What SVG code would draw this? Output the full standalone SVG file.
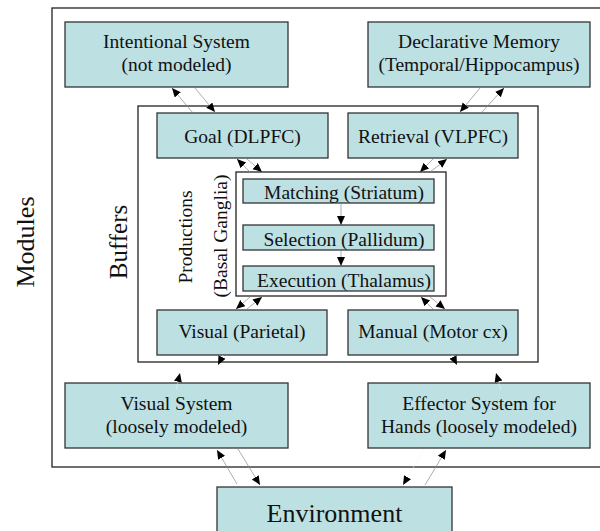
<svg xmlns="http://www.w3.org/2000/svg" width="600" height="531" viewBox="0 0 600 531">
<style>
.box{fill:#bde0e3;stroke:#333;stroke-width:1.3}
.frame{fill:none;stroke:#222;stroke-width:1.3}
.frameW{fill:#fff;stroke:#222;stroke-width:1.3}
text{font-family:'Liberation Serif','DejaVu Serif','Times New Roman',serif;fill:#111;text-anchor:middle}
.t{font-size:19.5px}
.big{font-size:25px}
.c{stroke:#8a8a8a;stroke-width:0.7;fill:none;marker-end:url(#ah)}
.ci{stroke:#f2f2f2;stroke-width:0.5;fill:none;marker-end:url(#ah)}
</style>
<defs>
<marker id="ah" markerUnits="userSpaceOnUse" markerWidth="10" markerHeight="9" refX="9" refY="4" orient="auto">
<path d="M0,0 L9,4 L0,8 Z" fill="#000"/>
</marker>
</defs>
<rect width="600" height="531" fill="#fff"/>
<g id="modules">
<rect class="frame" x="52" y="8" width="560" height="459"/>
<text class="big" style="font-size:26px" transform="translate(34,242) rotate(-90)">Modules</text>
</g>
<g id="buffers">
<rect class="frameW" x="138" y="106" width="400" height="256"/>
<text class="big" transform="translate(127,242) rotate(-90)">Buffers</text>
</g>
<g id="intentional">
<rect class="box" x="65" y="22" width="223" height="65"/>
<text class="t" x="176.5" y="48">Intentional System</text>
<text class="t" x="176.5" y="71">(not modeled)</text>
</g>
<g id="declarative">
<rect class="box" x="368" y="22" width="222" height="65"/>
<text class="t" x="479" y="48">Declarative Memory</text>
<text class="t" x="479" y="71">(Temporal/Hippocampus)</text>
</g>
<g id="goal">
<rect class="box" x="157" y="113" width="171" height="45"/>
<text class="t" x="242.5" y="143">Goal (DLPFC)</text>
</g>
<g id="retrieval">
<rect class="box" x="348" y="113" width="170" height="45"/>
<text class="t" x="433" y="143">Retrieval (VLPFC)</text>
</g>
<g id="productions">
<rect class="frameW" x="236" y="172" width="210" height="124"/>
<text class="t" transform="translate(192,237) rotate(-90)">Productions</text>
<text class="t" transform="translate(227,236) rotate(-90)">(Basal Ganglia)</text>
</g>
<g id="matching">
<rect class="box" x="243" y="179" width="191" height="24"/>
<text class="t" x="344" y="199">Matching (Striatum)</text>
</g>
<g id="selection">
<rect class="box" x="243" y="225" width="191" height="25"/>
<text class="t" x="344" y="246">Selection (Pallidum)</text>
</g>
<g id="execution">
<rect class="box" x="243" y="266" width="191" height="25"/>
<text class="t" x="344" y="287">Execution (Thalamus)</text>
</g>
<g id="visual">
<rect class="box" x="157" y="310" width="170" height="45"/>
<text class="t" x="242" y="338">Visual (Parietal)</text>
</g>
<g id="manual">
<rect class="box" x="348" y="310" width="170" height="45"/>
<text class="t" x="433" y="338">Manual (Motor cx)</text>
</g>
<g id="visualsystem">
<rect class="box" x="65" y="383" width="223" height="65"/>
<text class="t" x="176.5" y="410">Visual System</text>
<text class="t" x="176.5" y="433">(loosely modeled)</text>
</g>
<g id="effector">
<rect class="box" x="368" y="383" width="222" height="65"/>
<text class="t" x="479" y="410">Effector System for</text>
<text class="t" x="479" y="433">Hands (loosely modeled)</text>
</g>
<g id="environment">
<rect class="box" x="217" y="487" width="235" height="60"/>
<text class="big" x="334.5" y="522" style="font-size:26px">Environment</text>
</g>
<g id="connectors">
<path class="c" d="M193,113 L172,88"/>
<path class="c" d="M195,88 L215,112"/>
<path class="c" d="M480,88 L460,112"/>
<path class="c" d="M482,112 L504,88"/>
<path class="c" d="M250,172 L237,159"/>
<path class="c" d="M247,159 L262,172"/>
<path class="c" d="M433,159 L420,172"/>
<path class="c" d="M430,172 L447,159"/>
<path class="c" d="M341,203 L341,225"/>
<path class="c" d="M341,250 L341,266"/>
<path class="c" d="M250,297 L236,309"/>
<path class="c" d="M247,309 L262,297"/>
<path class="c" d="M433,309 L421,297"/>
<path class="c" d="M430,297 L445,309"/>
<path class="ci" d="M223,355 L218,365"/>
<path class="ci" d="M176,390 L180,373"/>
<path class="ci" d="M452,355 L457,365"/>
<path class="ci" d="M501,390 L496,373"/>
<path class="c" d="M237,484 L217,450"/>
<path class="c" d="M238,449 L260,485"/>
<path class="c" d="M425,485 L446,450"/>
<path class="ci" d="M424,449 L403,485"/>
</g>
</svg>
